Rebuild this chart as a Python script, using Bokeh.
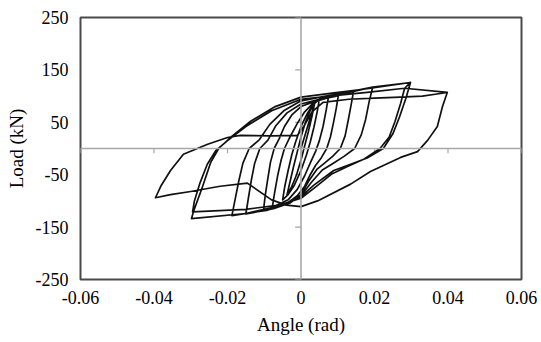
from bokeh.plotting import figure
from bokeh.models import FixedTicker, Span
from bokeh.embed import file_html
from bokeh.resources import INLINE

# ---- axes -------------------------------------------------------------
x_ticks = [-0.06, -0.04, -0.02, 0, 0.02, 0.04, 0.06]
x_tick_labels = ["-0.06", "-0.04", "-0.02", "0", "0.02", "0.04", "0.06"]
y_ticks = [-250, -150, -50, 50, 150, 250]
y_tick_labels = ["-250", "-150", "-50", "50", "150", "250"]

# ---- hysteresis cycles (angle in rad, load in kN)
# each cycle: positive peak -> negative peak -> positive peak
c00375_x = [0.0037, 0.0030, 0.0020, 0.0010, 0.0, -0.0012, -0.0026, -0.0038,
            -0.0030, -0.0020, -0.0010, 0.0, 0.0012, 0.0026, 0.0037]
c00375_y = [86, 62, 32, 5, -22, -50, -74, -88, -64, -34, -6, 22, 50, 74, 86]

c0050_x = [0.005, 0.0044, 0.0035, 0.0025, 0.0015, 0.0, -0.0018, -0.0035, -0.005,
           -0.0044, -0.0035, -0.0025, -0.0015, 0.0, 0.0018, 0.0035, 0.005]
c0050_y = [94, 70, 40, 12, -12, -42, -70, -88, -98, -72, -42, -12, 12, 42, 68, 86, 94]

c0075_x = [0.0075, 0.0069, 0.0060, 0.0050, 0.0040, 0.0025, 0.001, -0.001, -0.0035, -0.0078,
           -0.0072, -0.0063, -0.0054, -0.0045, -0.003, -0.001, 0.001, 0.0035, 0.0075]
c0075_y = [100, 75, 42, 15, -5, -28, -52, -78, -98, -112, -85, -50, -22, 0, 22, 48, 70, 88, 100]

c0100_x = [0.0102, 0.0096, 0.0088, 0.0080, 0.0070, 0.0055, 0.004, 0.0025, 0.001, -0.001,
           -0.004, -0.0102, -0.0097, -0.0090, -0.0083, -0.0073, -0.006, -0.0045, -0.0025,
           0.0, 0.003, 0.0065, 0.0102]
c0100_y = [103, 77, 48, 22, 0, -18, -32, -50, -72, -90, -106, -117, -88, -56, -26, 0, 18,
           42, 64, 80, 88, 95, 103]

c0150_x = [0.0143, 0.0136, 0.0128, 0.0120, 0.0107, 0.0086, 0.0064, 0.0043, 0.0021, 0.0,
           -0.003, -0.0075, -0.015, -0.0143, -0.0135, -0.0126, -0.0112, -0.009, -0.0068,
           -0.0038, 0.0, 0.0045, 0.009, 0.0143]
c0150_y = [109, 82, 52, 24, 0, -15, -28, -40, -62, -88, -104, -115, -125, -94, -60, -28, 0,
           16, 44, 68, 85, 93, 99, 109]

c0200_x = [0.0195, 0.0185, 0.0176, 0.0164, 0.0146, 0.0117, 0.0088, 0.0058, 0.0029, 0.0,
           -0.004, -0.0094, -0.0188, -0.0179, -0.0169, -0.0158, -0.0141, -0.0113, -0.0085,
           -0.0047, 0.0, 0.006, 0.0117, 0.0195]
c0200_y = [117, 88, 56, 26, 0, -15, -28, -41, -64, -90, -106, -118, -128, -96, -61, -28, 0,
           17, 46, 72, 91, 99, 106, 117]

c0300a_x = [0.0298, 0.0285, 0.0268, 0.025, 0.0224, 0.018, 0.0135, 0.0089, 0.0035, 0.0,
            -0.006, -0.015, -0.0298, -0.0293, -0.0268, -0.0246, -0.0224, -0.019, -0.0137,
            -0.007, 0.0, 0.009, 0.018, 0.0298]
c0300a_y = [126, 95, 60, 28, 0, -18, -30, -42, -70, -92, -110, -124, -134, -121, -73, -27,
            0, 22, 52, 80, 98, 106, 114, 126]

c0300b_x = [0.0282, 0.0271, 0.0256, 0.024, 0.0215, 0.0172, 0.0128, 0.0085, 0.0035, 0.0,
            -0.006, -0.015, -0.0295, -0.029, -0.0275, -0.0255, -0.0232, -0.02, -0.015,
            -0.008, 0.0, 0.009, 0.018, 0.0282]
c0300b_y = [115, 86, 52, 22, 0, -20, -34, -48, -76, -95, -108, -116, -121, -100, -66, -30,
            -4, 15, 42, 72, 94, 101, 107, 115]

c0400_x = [0.0398, 0.0385, 0.0371, 0.0345, 0.0317, 0.0271, 0.0189, 0.0135, 0.0045, 0.0,
           -0.004, -0.008, -0.0146, -0.022, -0.03, -0.0355, -0.0396, -0.038, -0.0355, -0.032,
           -0.0254, -0.02, -0.0165, -0.008, -0.001, 0.001, 0.003, 0.006, 0.013, 0.02, 0.027,
           0.033, 0.037, 0.0398]
c0400_y = [107, 80, 42, 16, -6, -17, -44, -68, -100, -111, -108, -98, -66, -72, -82, -88,
           -94, -70, -42, -11, 8, 21, 25, 24, 25, 45, 70, 88, 94, 96, 98, 100, 104, 107]

cycles = [(c00375_x, c00375_y), (c0050_x, c0050_y), (c0075_x, c0075_y),
          (c0100_x, c0100_y), (c0150_x, c0150_y), (c0200_x, c0200_y),
          (c0300a_x, c0300a_y), (c0300b_x, c0300b_y), (c0400_x, c0400_y)]

path_x = [0.0]
path_y = [0.0]
for cx, cy in cycles:
    path_x += cx
    path_y += cy

# ---- figure -------------------------------------------------------------
FONT = "Liberation Serif"
p = figure(width=541, height=342, x_range=(-0.06, 0.06), y_range=(-250, 250),
           output_backend="svg", toolbar_location=None,
           min_border_left=80, min_border_right=20, min_border_top=17,
           min_border_bottom=63)
p.background_fill_color = "white"
p.border_fill_color = "white"
p.outline_line_color = "#4a4a4a"
p.outline_line_width = 2
p.xgrid.visible = False
p.ygrid.visible = False

for ax, ticks, labels in ((p.xaxis[0], x_ticks, x_tick_labels),
                          (p.yaxis[0], y_ticks, y_tick_labels)):
    ax.ticker = FixedTicker(ticks=ticks)
    ax.major_label_overrides = {t: l for t, l in zip(ticks, labels)}
    ax.axis_line_color = None
    ax.major_tick_line_color = None
    ax.minor_tick_line_color = None
    ax.major_tick_out = 0
    ax.major_tick_in = 0
    ax.major_label_text_font = FONT
    ax.major_label_text_font_size = "18px"
    ax.major_label_text_color = "black"
    ax.axis_label_text_font = FONT
    ax.axis_label_text_font_size = "19px"
    ax.axis_label_text_font_style = "normal"
    ax.axis_label_text_color = "black"

p.xaxis.axis_label = "Angle (rad)"
p.yaxis.axis_label = "Load (kN)"
p.xaxis.major_label_standoff = 11
p.xaxis.axis_label_standoff = 7
p.yaxis.major_label_standoff = 12
p.yaxis.axis_label_standoff = 6

# crossing axes at the origin
axis_grey = "#a8a8a8"
p.add_layout(Span(location=0, dimension="height", line_color=axis_grey, line_width=1.6))
p.add_layout(Span(location=0, dimension="width", line_color=axis_grey, line_width=1.6))
# tick marks on the crossing axes
p.segment(x0=x_ticks, y0=[0] * len(x_ticks), x1=x_ticks, y1=[-9] * len(x_ticks),
          line_color=axis_grey, line_width=1.2)
p.segment(x0=[0] * len(y_ticks), y0=y_ticks, x1=[-0.0016] * len(y_ticks), y1=y_ticks,
          line_color=axis_grey, line_width=1.2)

p.line(path_x, path_y, line_color="#111111", line_width=1.7, line_join="round")

open("out.html", "w").write(file_html(p, INLINE))
